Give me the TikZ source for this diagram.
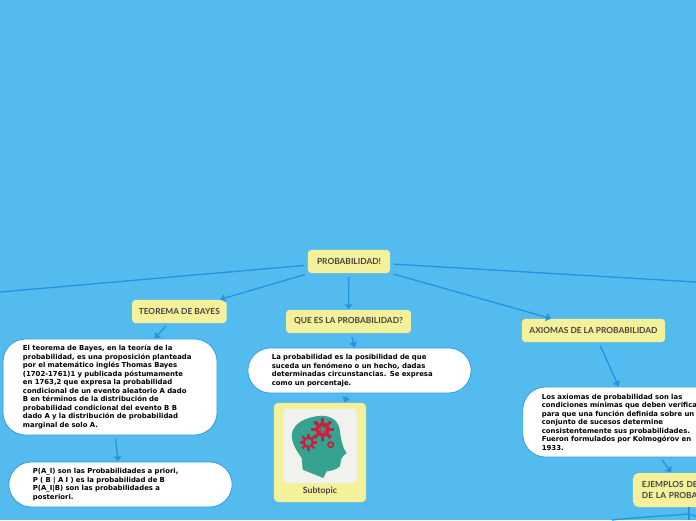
\documentclass[tikz,border=0pt]{standalone}
\usepackage{fontspec}
\usepackage{tikz}
\usetikzlibrary{arrows.meta}
\setmainfont{DejaVu Sans}
\newfontfamily\titlefont{Lato}
\definecolor{skyback}{HTML}{54BBEE}
\definecolor{linkblue}{HTML}{2196E3}
\definecolor{topicyellow}{HTML}{F4F19A}
\definecolor{titlegray}{HTML}{444444}
\definecolor{headteal}{HTML}{35A38F}
\definecolor{gearred}{HTML}{C8203F}
\definecolor{panelgray}{HTML}{F1F1EE}
\tikzset{
  topic/.style={rectangle, rounded corners=2.5pt, fill=topicyellow, draw=none, align=center, text=titlegray, font=\titlefont\bfseries\fontsize{5.95}{8}\selectfont},
  note/.style={rectangle, rounded corners=16pt, fill=white, draw=linkblue, line width=0.5pt, align=left, inner sep=0pt, font=\bfseries\fontsize{4.9}{6.05}\selectfont},
  link/.style={draw=linkblue, line width=0.95pt, shorten <=2.5pt},
  arrowlink/.style={link, -{Latex[length=3.8pt,width=6.5pt]}},
  gearring/.style={draw=gearred, fill=none}
}
\begin{document}
\begin{tikzpicture}[x=0.025cm, y=-0.025cm]
\fill[skyback] (0,0) rectangle (696,520);
\clip (0,0) rectangle (696,520);

\node[topic, minimum width=2.05cm, minimum height=0.58cm] (root) at (349,261.5) {PROBABILIDAD!};
\node[topic, minimum width=2.36cm, minimum height=0.58cm] (bayes) at (179.3,311.5) {TEOREMA DE BAYES};
\node[topic, minimum width=3.12cm, minimum height=0.58cm] (que) at (348.5,321.5) {QUE ES LA PROBABILIDAD?};
\node[topic, minimum width=3.58cm, minimum height=0.58cm] (axiomas) at (593.5,330.5) {AXIOMAS DE LA PROBABILIDAD};

\node[note, minimum width=5.35cm, minimum height=2.4cm, text width=4.35cm] (bayestext) at (110,387) {El teorema de Bayes, en la teoría de la\\probabilidad, es una proposición planteada\\por el matemático inglés Thomas Bayes\\(1702-1761)1 y publicada póstumamente\\en 1763,2 que expresa la probabilidad\\condicional de un evento aleatorio A dado\\B en términos de la distribución de\\probabilidad condicional del evento B B\\dado A y la distribución de probabilidad\\marginal de solo A.};
\node[note, minimum width=5.58cm, minimum height=1.125cm, text width=4.38cm] (priori) at (120.5,484.5) {P(A\_I) son las Probabilidades a priori,\\P ( B | A I ) es la probabilidad de B\\P(A\_I|B) son las probabilidades a\\posteriori.};
\node[note, minimum width=5.58cm, minimum height=1.125cm, text width=4.38cm] (quetext) at (359.5,370.5) {La probabilidad es la posibilidad de que\\suceda un fenómeno o un hecho, dadas\\determinadas circunstancias. Se expresa\\como un porcentaje.};
\node[note, minimum width=5.58cm, minimum height=1.75cm, text width=4.63cm] (axiomastext) at (634.5,422) {Los axiomas de probabilidad son las\\condiciones mínimas que deben verifica\\para que una función definida sobre un\\conjunto de sucesos determine\\consistentemente sus probabilidades.\\Fueron formulados por Kolmogórov en\\1933.};
\node[topic, rounded corners=4pt, minimum width=2.55cm, minimum height=0.85cm, text width=2.1cm, align=left, font=\titlefont\bfseries\fontsize{5.95}{8.4}\selectfont] (ejemplos) at (684,490) {EJEMPLOS DE\\DE LA PROBA};

% subtopic card with the head picture
\node[topic, rounded corners=3pt, minimum width=2.3cm, minimum height=2.48cm] (subtopic) at (320,452.5) {};
\node[rectangle, rounded corners=2.5pt, fill=panelgray, minimum width=1.85cm, minimum height=1.85cm] (panel) at (320,446) {};
\node[text=titlegray, font=\titlefont\bfseries\fontsize{6.2}{7}\selectfont] (sublabel) at (320,491) {Subtopic};

\fill[headteal] (302.7,469.7) -- (301.7,458) .. controls (296,450) and (291.7,443) .. (291.7,434.7)
  .. controls (293,424) and (304,417) .. (321.7,415.7) .. controls (333,416) and (339,422) .. (340,431.3)
  .. controls (341,440) and (343,449) .. (346.7,453) -- (343.3,455.7) -- (341,459.7) -- (340,466.3)
  .. controls (336,470) and (330,471) .. (326.7,471.3) -- (323.3,478) -- cycle;

\draw[gearring, line width=2.6pt] (322.7,429.7) circle (5.6);
\draw[gearring, line width=0.4pt] (322.7,429.7) circle (2.4);
\foreach \a in {0,45,...,315}
  \draw[gearred, line width=2.3pt] (322.7,429.7) ++(\a:7) -- ++(\a:4.6);
\draw[gearring, line width=1.7pt] (308.3,442.3) circle (4.6);
\foreach \a in {0,45,...,315}
  \draw[gearred, line width=1.7pt] (308.3,442.3) ++(\a:5) -- ++(\a:3.6);
\draw[gearring, line width=1.2pt] (330.7,444.7) circle (2.6);

\coordinate (offleft) at (0,292);
\coordinate (offright) at (696,282);
\coordinate (ejdown) at (689,520);
\coordinate (ejbend) at (689,514);
\coordinate (ejleft) at (612,520);
\coordinate (ejright) at (696,516.5);

\draw[link] (root) -- (offleft);
\draw[link] (root) -- (offright);
\draw[arrowlink] (root) -- (bayes);
\draw[arrowlink] (root) -- (que);
\draw[arrowlink] (root) -- (axiomas);
\draw[arrowlink] (bayes) -- (bayestext);
\draw[arrowlink] (bayestext) -- (priori);
\draw[arrowlink] (que) -- (quetext);
\draw[arrowlink] (quetext) -- (subtopic);
\draw[arrowlink] (axiomas) -- (axiomastext);
\draw[arrowlink] (axiomastext) -- (ejemplos);
\draw[link, shorten <=0pt] (ejemplos.south -| ejbend) -- (ejdown);
\draw[link, shorten <=0pt] (ejbend) .. controls (665,516) and (640,517) .. (ejleft);
\draw[link, shorten <=0pt] (ejbend) -- (ejright);
\end{tikzpicture}
\end{document}
